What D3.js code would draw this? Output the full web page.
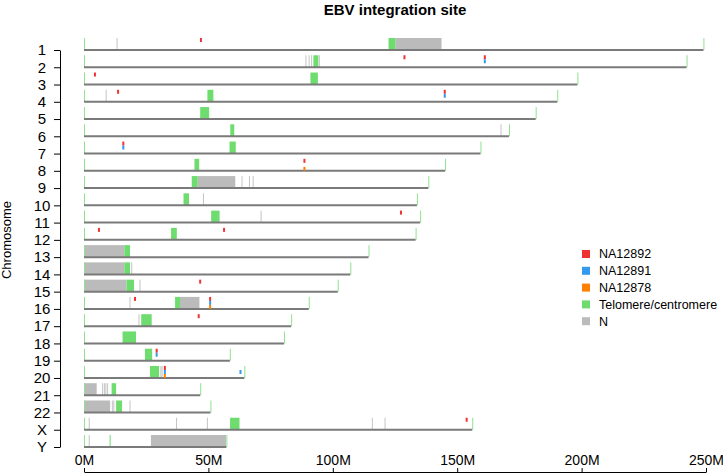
<!DOCTYPE html>
<html lang="en">
<head>
    <meta charset="UTF-8">
    <title>EBV integration site</title>
    <style>
        body { margin: 0; background: #fff; }
        text { font-family: "Liberation Sans", Arial, sans-serif; }
    </style>
</head>
<script src="https://d3js.org/d3.v7.min.js"></script>
<body>
    <div id="chart"></div>
</body>
<script>
const width = 723
const height = 475

// chromosome names and lengths (Mb, hg38)
const chromosomes = ["1","2","3","4","5","6","7","8","9","10","11","12","13","14","15","16","17","18","19","20","21","22","X","Y"]
const chromLengths = [248.96, 242.19, 198.3, 190.21, 181.54, 170.81, 159.35, 145.14, 138.39, 133.8, 135.09, 133.28,
                      114.36, 107.04, 101.99, 90.34, 83.26, 80.37, 58.62, 64.44, 46.71, 50.82, 156.04, 57.23]

// centromere blocks [chrom, start, end]
const centromeres = [
    ["1", 122.4, 125.2], ["2", 92.2, 94.2], ["3", 91.0, 94.0], ["4", 49.6, 52.0], ["5", 46.7, 50.3],
    ["6", 58.8, 60.4], ["7", 58.5, 61.0], ["8", 44.4, 46.3], ["9", 43.3, 45.7], ["10", 40.0, 42.2],
    ["11", 51.1, 54.5], ["12", 35.0, 37.3], ["13", 16.2, 18.5], ["14", 16.2, 18.5], ["15", 17.1, 20.1],
    ["16", 36.6, 38.6], ["17", 23.0, 27.2], ["18", 15.5, 20.9], ["19", 24.5, 27.4], ["20", 26.5, 30.2],
    ["21", 11.1, 12.9], ["22", 12.9, 15.3], ["X", 58.7, 62.5], ["Y", 10.3, 10.6]
]

// large N blocks [chrom, start, end]
const nBlocks = [
    ["1", 125.2, 143.7], ["9", 45.7, 60.8], ["13", 0, 16.2], ["14", 0, 16.2], ["15", 0, 17.1],
    ["16", 38.6, 46.4], ["21", 0, 5.1], ["22", 0, 10.5], ["Y", 26.9, 57.1]
]

// small N gaps [chrom, position]
const nGaps = [
    ["1", 13.3], ["2", 89.2], ["2", 90.5], ["2", 91.5], ["2", 94.6], ["4", 8.9], ["6", 167.6],
    ["9", 63.5], ["9", 66.5], ["9", 68.0], ["10", 48.0], ["11", 71.2], ["14", 19.2], ["15", 22.5],
    ["16", 18.5], ["17", 22.1], ["20", 30.9], ["20", 31.4], ["21", 7.5], ["21", 8.2], ["21", 8.8],
    ["21", 9.5], ["22", 11.4], ["22", 12.0], ["22", 18.5], ["X", 2.1], ["X", 37.2], ["X", 49.6],
    ["X", 115.9], ["X", 121.0], ["Y", 2.1]
]

// integration sites [chrom, position, sample]
const sites = [
    ["1", 47.0, "NA12892"],
    ["2", 128.8, "NA12892"], ["2", 161.1, "NA12892"], ["2", 161.1, "NA12891"],
    ["3", 4.4, "NA12892"],
    ["4", 13.7, "NA12892"], ["4", 145.0, "NA12892"], ["4", 145.0, "NA12891"],
    ["7", 15.8, "NA12892"], ["7", 15.8, "NA12891"],
    ["8", 88.6, "NA12892"], ["8", 88.6, "NA12878"],
    ["11", 127.4, "NA12892"],
    ["12", 6.0, "NA12892"], ["12", 56.3, "NA12892"],
    ["15", 46.7, "NA12892"],
    ["16", 20.5, "NA12892"], ["16", 50.7, "NA12892"], ["16", 50.7, "NA12891"], ["16", 50.7, "NA12878"],
    ["17", 46.1, "NA12892"],
    ["19", 29.2, "NA12892"], ["19", 29.2, "NA12891"],
    ["20", 32.5, "NA12892"], ["20", 32.5, "NA12891"], ["20", 32.5, "NA12878"], ["20", 62.9, "NA12891"],
    ["X", 153.8, "NA12892"]
]

const samples = ["NA12892", "NA12891", "NA12878"]
const legendLabels = ["NA12892", "NA12891", "NA12878", "Telomere/centromere", "N"]
const legendColors = ["#ee3333", "#3399ee", "#ff8000", "#6edc6e", "#bbbbbb"]
const xTicks = [0, 50, 100, 150, 200, 250]

const x = d3.scaleLinear().domain([0, 250]).range([84, 706])
const y = d3.scalePoint().domain(chromosomes).range([50, 447])
const bandH = 12

const svg = d3.select("#chart")
    .append("svg")
    .attr("width", width)
    .attr("height", height)

svg.append("text")
    .attr("x", 395)
    .attr("y", 15)
    .attr("text-anchor", "middle")
    .attr("font-size", 15)
    .attr("font-weight", "bold")
    .text("EBV integration site")

const chart = svg.append("g")

// N blocks
chart.selectAll(".nblock")
    .data(nBlocks)
    .enter().append("rect")
    .attr("x", d => x(d[1]))
    .attr("y", d => y(d[0]) - bandH)
    .attr("width", d => x(d[2]) - x(d[1]))
    .attr("height", bandH)
    .attr("fill", "#bbbbbb")

chart.selectAll(".ngap")
    .data(nGaps)
    .enter().append("line")
    .attr("x1", d => x(d[1]))
    .attr("x2", d => x(d[1]))
    .attr("y1", d => y(d[0]) - bandH)
    .attr("y2", d => y(d[0]))
    .attr("stroke", "#c4c4c4")
    .attr("stroke-width", 1)

// centromeres
chart.selectAll(".cen")
    .data(centromeres)
    .enter().append("rect")
    .attr("x", d => x(d[1]))
    .attr("y", d => y(d[0]) - bandH)
    .attr("width", d => Math.max(1, x(d[2]) - x(d[1])))
    .attr("height", bandH)
    .attr("fill", "#6edc6e")

// telomeres at both ends
const telomeres = []
chromosomes.forEach((c, i) => {
    telomeres.push([c, 0])
    telomeres.push([c, chromLengths[i]])
})
chart.selectAll(".tel")
    .data(telomeres)
    .enter().append("line")
    .attr("x1", d => x(d[1]) + 0.5)
    .attr("x2", d => x(d[1]) + 0.5)
    .attr("y1", d => y(d[0]) - bandH)
    .attr("y2", d => y(d[0]))
    .attr("stroke", "#8fe28f")
    .attr("stroke-width", 1)

// chromosome lines
chart.selectAll(".chrom")
    .data(chromosomes)
    .enter().append("line")
    .attr("x1", x(0))
    .attr("x2", (d, i) => x(chromLengths[i]))
    .attr("y1", d => y(d))
    .attr("y2", d => y(d))
    .attr("stroke", "#7a7a7a")
    .attr("stroke-width", 2)

// integration sites, stacked by sample
chart.selectAll(".site")
    .data(sites)
    .enter().append("rect")
    .attr("x", d => x(d[1]) - 1)
    .attr("y", d => y(d[0]) - bandH + samples.indexOf(d[2]) * 4)
    .attr("width", 2)
    .attr("height", 4)
    .attr("fill", d => legendColors[samples.indexOf(d[2])])

// axes
const yAxis = svg.append("g")
    .attr("transform", "translate(60,0)")
    .call(d3.axisLeft(y).tickSize(6).tickSizeOuter(0))
yAxis.selectAll("text")
    .attr("font-size", 15)
    .attr("fill", "#000")
    .attr("text-anchor", "middle")
    .attr("x", -18)
yAxis.select(".domain").attr("stroke", "#000")

svg.append("text")
    .attr("transform", "translate(11,240) rotate(-90)")
    .attr("text-anchor", "middle")
    .attr("font-size", 13)
    .text("Chromosome")

const xAxis = svg.append("g")
    .attr("transform", "translate(0,472)")
    .call(d3.axisTop(x).tickValues(xTicks).tickFormat(d => d + "M").tickSize(4).tickSizeOuter(0))
xAxis.selectAll("text")
    .attr("font-size", 14)
    .attr("fill", "#000")
xAxis.select(".domain").attr("stroke", "#000")

// legend
const legend = svg.append("g")
    .attr("transform", "translate(582,254)")
legend.selectAll("rect")
    .data(legendLabels)
    .enter().append("rect")
    .attr("x", 0)
    .attr("y", (d, i) => i * 16.8 - 4)
    .attr("width", 8)
    .attr("height", 8)
    .attr("fill", (d, i) => legendColors[i])
legend.selectAll("text")
    .data(legendLabels)
    .enter().append("text")
    .attr("x", 17)
    .attr("y", (d, i) => i * 16.8)
    .attr("dy", "0.35em")
    .attr("font-size", 12.5)
    .text(d => d)
</script>
</html>
